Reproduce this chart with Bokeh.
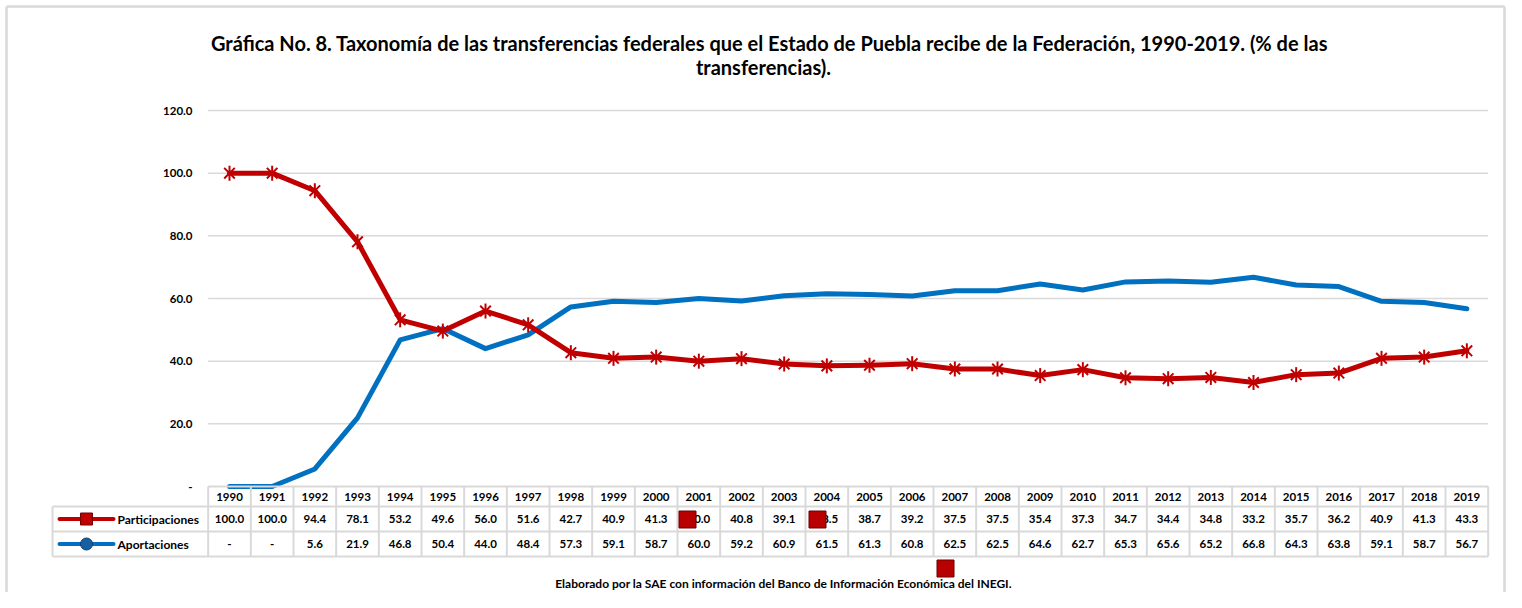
import math
from bokeh.plotting import figure
from bokeh.models import Range1d
from bokeh.core.properties import value
from bokeh.embed import file_html
from bokeh.resources import INLINE

# ---------------- data ----------------
years = ["1990", "1991", "1992", "1993", "1994", "1995", "1996", "1997", "1998", "1999",
         "2000", "2001", "2002", "2003", "2004", "2005", "2006", "2007", "2008", "2009",
         "2010", "2011", "2012", "2013", "2014", "2015", "2016", "2017", "2018", "2019"]
participaciones = [100.0, 100.0, 94.4, 78.1, 53.2, 49.6, 56.0, 51.6, 42.7, 40.9,
                   41.3, 40.0, 40.8, 39.1, 38.5, 38.7, 39.2, 37.5, 37.5, 35.4,
                   37.3, 34.7, 34.4, 34.8, 33.2, 35.7, 36.2, 40.9, 41.3, 43.3]
aportaciones = [0.0, 0.0, 5.6, 21.9, 46.8, 50.4, 44.0, 48.4, 57.3, 59.1,
                58.7, 60.0, 59.2, 60.9, 61.5, 61.3, 60.8, 62.5, 62.5, 64.6,
                62.7, 65.3, 65.6, 65.2, 66.8, 64.3, 63.8, 59.1, 58.7, 56.7]
series_names = ["Participaciones", "Aportaciones"]
y_ticks = [0, 20, 40, 60, 80, 100, 120]
y_tick_labels = ["-", "20.0", "40.0", "60.0", "80.0", "100.0", "120.0"]
title_lines = ["Gráfica No. 8. Taxonomía de las transferencias federales que el Estado de Puebla recibe de la Federación, 1990-2019. (% de las",
               "transferencias)."]
footer = "Elaborado por la SAE con información del Banco de Información Económica del INEGI."

# ---------------- layout (picture pixels -> data units) ----------------
FIG_W, FIG_H = 1506, 592
COL_W = 42.667      # width of one year column
X0 = 229.0          # x of first column centre
Y0 = 486.0          # y of value 0
PPU = 3.1333        # pixels per percentage unit


def dx(px):
    return (px - X0) / COL_W


def dy(py):
    return (Y0 - py) / PPU


FONT = value("Lato")
RED = "#c00000"
BLUE = "#0070c0"
GRID = "#d9d9d9"

p = figure(width=FIG_W, height=FIG_H, output_backend="svg", toolbar_location=None,
           x_range=Range1d(dx(0), dx(FIG_W)), y_range=Range1d(dy(FIG_H), dy(0)),
           x_axis_type=None, y_axis_type=None, min_border=0)
p.grid.visible = False
p.outline_line_color = None
p.background_fill_color = "white"
p.border_fill_color = "white"

xs = list(range(len(years)))
n = len(years)

# outer chart border (left, top, right)
p.segment(x0=[dx(6), dx(6), dx(1504)], y0=[dy(FIG_H), dy(6), dy(FIG_H)],
          x1=[dx(6), dx(1504), dx(1504)], y1=[dy(6), dy(6), dy(6)],
          line_color="#d9d9d9", line_width=2.5)

# grid lines
gt = [t for t in y_ticks if t > 0]
p.segment(x0=[-0.5] * len(gt), y0=gt, x1=[n - 0.5] * len(gt), y1=gt,
          line_color=GRID, line_width=1.5)

# y tick labels
p.text(x=[dx(192)] * len(y_ticks), y=y_ticks, text=y_tick_labels,
       text_font=FONT, text_font_style="bold", text_font_size="11.5px",
       text_align="right", text_baseline="middle", text_color="#000000")

# series lines
p.line(xs, aportaciones, line_color=BLUE, line_width=5, line_join="round", line_cap="round")
p.line(xs, participaciones, line_color=RED, line_width=5, line_join="round", line_cap="round")
p.scatter(xs, participaciones, marker="x", size=15, line_color=RED, line_width=2)
p.scatter(xs, participaciones, marker="dash", angle=math.pi / 2, size=15, line_color=RED, line_width=2)

# ---------------- data table ----------------
row_top = [486, 506, 531]
row_bot = [506, 531, 556]
row_mid = [(a + b) / 2 for a, b in zip(row_top, row_bot)]
left_x = 52
hy = [486, 506, 531, 556]
p.segment(x0=[-0.5, dx(left_x), dx(left_x), dx(left_x)], y0=[dy(v) for v in hy],
          x1=[n - 0.5] * 4, y1=[dy(v) for v in hy], line_color=GRID, line_width=2)
vx = [i - 0.5 for i in range(n + 1)]
p.segment(x0=vx, y0=[dy(486)] * len(vx), x1=vx, y1=[dy(556)] * len(vx),
          line_color=GRID, line_width=2)
p.segment(x0=[dx(left_x)], y0=[dy(506)], x1=[dx(left_x)], y1=[dy(556)],
          line_color=GRID, line_width=2)

cell_kw = dict(text_font=FONT, text_font_style="bold", text_font_size="11.5px",
               text_align="center", text_baseline="middle", text_color="#000000")
p.text(x=xs, y=[dy(row_mid[0])] * n, text=years, **cell_kw)
p.text(x=xs, y=[dy(row_mid[1])] * n, text=[f"{v:.1f}" if v else "-" for v in participaciones], **cell_kw)
p.text(x=xs, y=[dy(row_mid[2])] * n, text=[f"{v:.1f}" if v else "-" for v in aportaciones], **cell_kw)

# legend keys in the table
for name, col, mk, fill, edge, ym in [(series_names[0], RED, "square", "#c00000", "#7a0000", row_mid[1]),
                                      (series_names[1], BLUE, "circle", "#165fa3", "#0b3f70", row_mid[2])]:
    p.line([dx(59), dx(113)], [dy(ym), dy(ym)], line_color=col, line_width=4, line_cap="round")
    p.scatter([dx(86)], [dy(ym)], marker=mk, size=12, fill_color=fill, line_color=edge, line_width=1)
    p.text(x=[dx(117)], y=[dy(ym)], text=[name], text_font=FONT, text_font_style="bold",
           text_font_size="12px", text_align="left", text_baseline="middle", text_color="#000000")

# stray marker artefacts visible in the original image
p.scatter([dx(687), dx(817), dx(945)], [dy(519), dy(519), dy(568)], marker="square", size=17,
          fill_color="#b80000", line_color="#6e0000", line_width=1)

# ---------------- titles ----------------
p.text(x=[dx(769), dx(763)], y=[dy(42), dy(66)], text=title_lines,
       text_font=FONT, text_font_style="bold", text_font_size="20px",
       text_align="center", text_baseline="middle", text_color="#000000")
p.text(x=[dx(783)], y=[dy(583)], text=[footer],
       text_font=FONT, text_font_style="bold", text_font_size="12px",
       text_align="center", text_baseline="middle", text_color="#000000")

open("out.html", "w").write(file_html(p, INLINE))
